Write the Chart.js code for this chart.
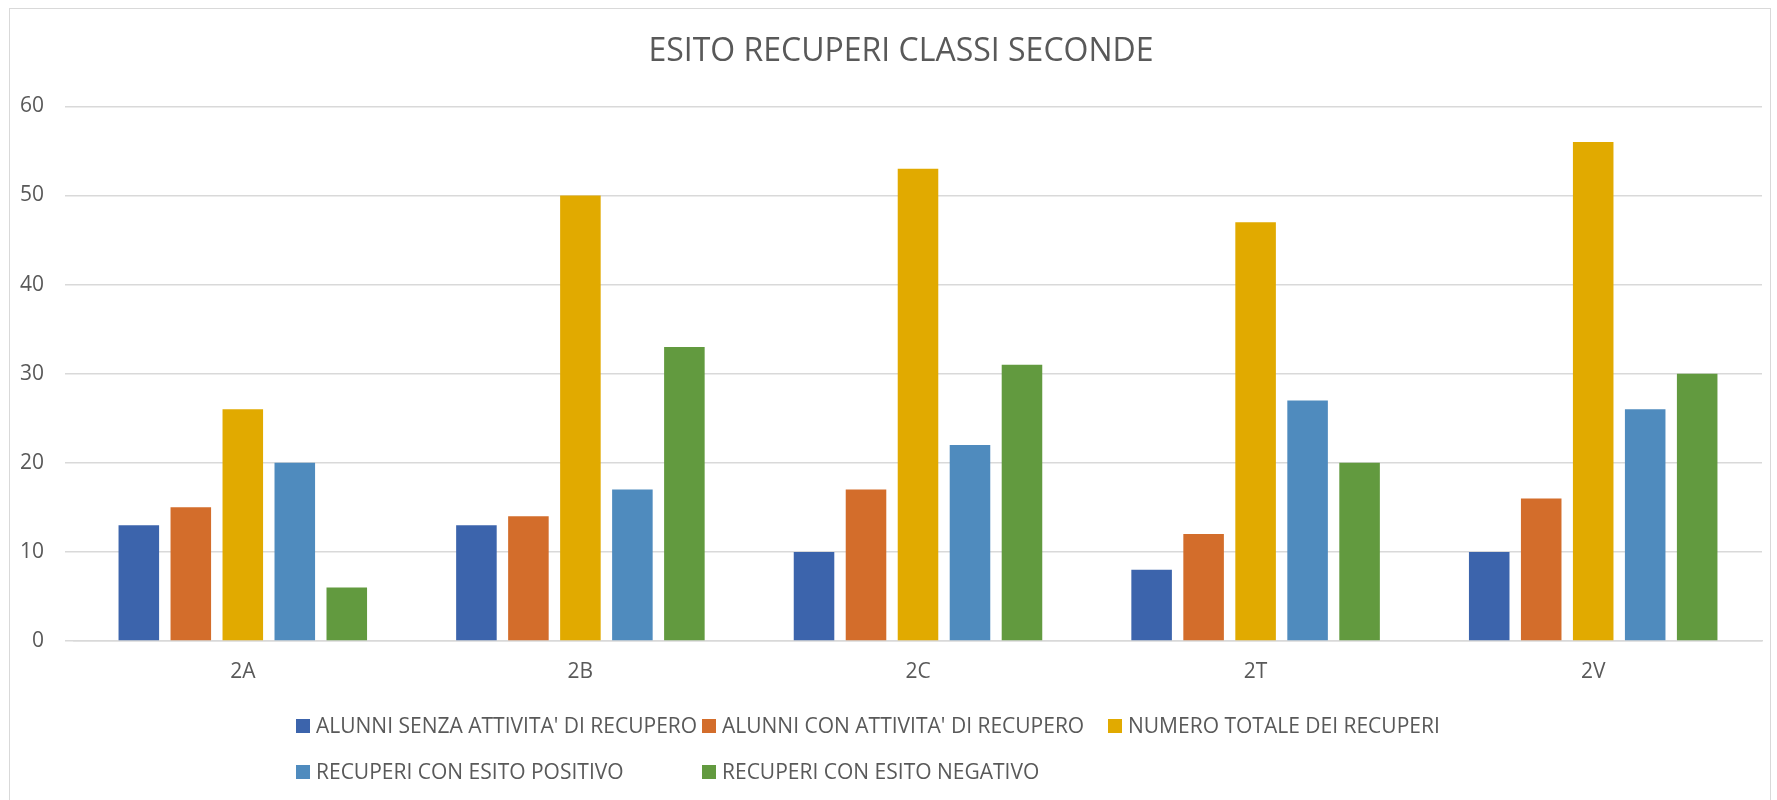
<!DOCTYPE html>
<html>
<head>
<meta charset="utf-8">
<script src="https://cdn.jsdelivr.net/npm/chart.js@4.4.1/dist/chart.umd.min.js"></script>
<style>
  html, body { margin: 0; padding: 0; background: #fff; }
  #wrap { position: relative; width: 1777px; height: 800px; overflow: hidden; }
  #frame { position: absolute; left: 9px; top: 8px; width: 1760px; height: 900px; border: 1px solid #d9d9d9; }
  canvas { position: absolute; left: 0; top: 0; }
</style>
</head>
<body>
<div id="wrap">
  <div id="frame"></div>
  <canvas id="myChart" width="1777" height="800"></canvas>
</div>
<script>
var classi = ["2A", "2B", "2C", "2T", "2V"];
var senzaAttivita = [13, 13, 10, 8, 10];
var conAttivita = [15, 14, 17, 12, 16];
var totaleRecuperi = [26, 50, 53, 47, 56];
var esitoPositivo = [20, 17, 22, 27, 26];
var esitoNegativo = [6, 33, 31, 20, 30];
var yTicks = [0, 10, 20, 30, 40, 50, 60];

var grey = '#595959';
var font = "'Open Sans', sans-serif";

// legend drawn as a 3-column grid, like the original
var gridLegend = {
    id: 'gridLegend',
    afterLayout: function(chart) {
        // title is centred a bit right of the plot, as in the original
        if (chart.titleBlock) chart.titleBlock.left = 40;
    },
    afterDraw: function(chart) {
        var ctx = chart.ctx;
        var sets = chart.data.datasets;
        ctx.save();
        ctx.font = '21px ' + font;
        ctx.textBaseline = 'middle';
        ctx.textAlign = 'left';
        for (var i = 0; i < sets.length; i++) {
            var col = i % 3, row = Math.floor(i / 3);
            var x = 296 + col * 406;
            var y = 726 + row * 46;
            ctx.fillStyle = sets[i].backgroundColor;
            ctx.fillRect(x, y - 7, 14, 14);
            ctx.fillStyle = grey;
            ctx.fillText(sets[i].label, x + 20, y + 1);
        }
        ctx.restore();
    }
};

var ctx = document.getElementById('myChart').getContext('2d');
var chart = new Chart(ctx, {
    type: 'bar',
    data: {
        labels: classi,
        datasets: [
            { label: "ALUNNI SENZA ATTIVITA' DI RECUPERO", backgroundColor: '#3c64ac', data: senzaAttivita },
            { label: "ALUNNI CON ATTIVITA' DI RECUPERO", backgroundColor: '#d36d2b', data: conAttivita },
            { label: "NUMERO TOTALE DEI RECUPERI", backgroundColor: '#e1aa00', data: totaleRecuperi },
            { label: "RECUPERI CON ESITO POSITIVO", backgroundColor: '#4f8bbe', data: esitoPositivo },
            { label: "RECUPERI CON ESITO NEGATIVO", backgroundColor: '#629a3f', data: esitoNegativo }
        ]
    },
    options: {
        responsive: false,
        animation: false,
        categoryPercentage: 0.77,
        barPercentage: 0.78,
        layout: { padding: { left: 0, right: 15, top: 0, bottom: 109 } },
        plugins: {
            legend: { display: false },
            tooltip: { enabled: false },
            title: {
                display: true,
                text: 'ESITO RECUPERI CLASSI SECONDE',
                color: grey,
                font: { family: font, size: 32, weight: 'normal' },
                padding: { top: 33, bottom: 35 }
            }
        },
        scales: {
            x: {
                grid: { display: false },
                border: { color: '#d9d9d9', width: 1.5 },
                ticks: { color: grey, font: { family: font, size: 21 }, padding: 10 },
                afterFit: function(scale) { scale.height = 50; }
            },
            y: {
                min: 0,
                max: 60,
                afterBuildTicks: function(scale) {
                    scale.ticks = yTicks.map(function(v) { return { value: v }; });
                },
                grid: { color: '#d9d9d9', lineWidth: 1.5, tickLength: 9 },
                border: { display: false },
                ticks: { color: grey, font: { family: font, size: 21 }, padding: 21 },
                afterFit: function(scale) { scale.width = 74; }
            }
        }
    },
    plugins: [gridLegend]
});
</script>
</body>
</html>
